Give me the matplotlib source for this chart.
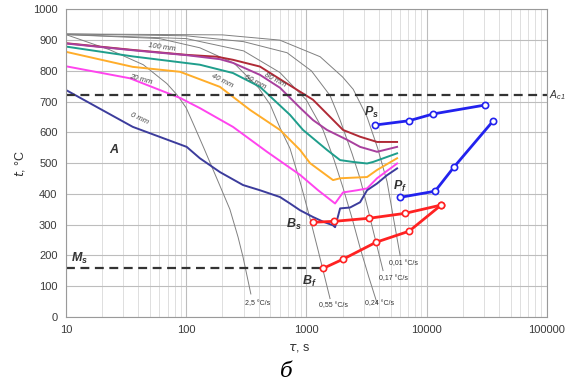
import matplotlib
matplotlib.use('Agg')
import matplotlib.pyplot as plt
from matplotlib.ticker import FixedLocator, LogLocator, NullFormatter

plt.rcParams['font.family'] = ['Liberation Sans', 'DejaVu Sans']

# cooling curves (time s, temperature C)
t_0mm = [10, 36, 101, 130, 191, 297, 411, 603, 730, 885, 1135, 1375, 1664, 1730,
         1820, 1905, 2307, 2793, 3192, 3865, 4680, 5670]
T_0mm = [738, 618, 553, 516, 471, 429, 412, 390, 369, 347, 325, 310, 298, 292,
         324, 353, 356, 373, 412, 434, 461, 483]
t_20mm = [10, 34, 89, 130, 245, 470, 885, 1250, 1730, 2015, 2636, 3192, 3865, 5670]
T_20mm = [815, 776, 712, 679, 618, 537, 462, 412, 369, 405, 412, 418, 451, 499]
t_40mm = [10, 36, 89, 191, 340, 603, 885, 1072, 1664, 1905, 3192, 3865, 5670]
T_40mm = [862, 813, 797, 748, 673, 608, 543, 500, 445, 451, 455, 478, 516]
t_60mm = [10, 36, 130, 245, 411, 730, 937, 1483, 1905, 2444, 3192, 3580, 5670]
T_60mm = [879, 847, 820, 793, 748, 657, 608, 543, 510, 504, 499, 504, 532]
t_80mm = [10, 36, 101, 191, 245, 411, 603, 885, 1135, 1483, 2178, 2793, 3865, 5670]
T_80mm = [889, 867, 851, 838, 826, 787, 745, 680, 640, 608, 576, 553, 537, 553]
t_100mm = [10, 36, 101, 180, 245, 411, 620, 1135, 2015, 2793, 3865, 5670]
T_100mm = [890, 868, 852, 846, 836, 814, 770, 706, 608, 586, 569, 569]

# cooling rate lines (grey)
t_r25 = [10, 23, 44, 69, 84, 100, 114, 140, 180, 231, 270, 297, 345]
T_r25 = [918, 869, 820, 759, 722, 680, 630, 550, 450, 350, 260, 195, 75]
t_r055 = [10, 60, 130, 250, 400, 500, 603, 730, 900, 1072, 1250, 1571]
T_r055 = [918, 905, 875, 825, 745, 690, 615, 548, 430, 320, 217, 60]
t_r024 = [10, 100, 300, 600, 1000, 1375, 1700, 2015, 2400, 2793, 3300, 3865]
T_r024 = [918, 905, 865, 795, 705, 608, 510, 420, 320, 225, 130, 45]
t_r017 = [10, 100, 300, 690, 1100, 1571, 1905, 2400, 2793, 3200, 3580, 4335]
T_r017 = [920, 914, 895, 859, 800, 720, 640, 530, 450, 360, 282, 151]
t_r001 = [10, 200, 600, 1300, 2000, 2450, 3192, 3900, 4680, 5300, 6010]
T_r001 = [920, 917, 900, 846, 780, 740, 650, 550, 440, 320, 200]

# transformation lines
t_Bs = [1135, 1700, 3320, 6610, 13190]
T_Bs = [308, 311, 321, 337, 364]
t_Bf = [1375, 2015, 3790, 7140, 13190]
T_Bf = [158, 188, 243, 279, 364]
t_Ps = [3725, 7140, 11300, 30600]
T_Ps = [624, 638, 660, 689]
t_Pf = [6010, 11740, 16900, 35600]
T_Pf = [389, 409, 488, 637]

Ac1 = 720
Ms = 160

fig = plt.figure(figsize=(5.68, 3.89), dpi=100)
ax = fig.add_axes([0.116, 0.185, 0.847, 0.791])
ax.set_xscale('log')
ax.set_xlim(10, 100000)
ax.set_ylim(0, 1000)

ax.xaxis.set_major_locator(FixedLocator([10, 100, 1000, 10000, 100000]))
ax.set_xticklabels(['10', '100', '1000', '10000', '100000'])
ax.xaxis.set_minor_locator(LogLocator(base=10, subs=range(2, 10)))
ax.xaxis.set_minor_formatter(NullFormatter())
ax.set_yticks(range(0, 1001, 100))
ax.grid(which='major', color='#bdbdbd', lw=0.8)
ax.grid(which='minor', axis='x', color='#d9d9d9', lw=0.6)
ax.set_axisbelow(True)
ax.tick_params(which='both', length=0, labelsize=8, labelcolor='#3a3a3a', pad=6)
for s in ax.spines.values():
    s.set_color('#9a9a9a')

gray = '#808080'
for tt, TT in [(t_r25, T_r25), (t_r055, T_r055), (t_r024, T_r024),
               (t_r017, T_r017), (t_r001, T_r001)]:
    ax.plot(tt, TT, color=gray, lw=0.7)

ax.plot(t_100mm, T_100mm, color='#b02a36', lw=1.4)
ax.plot(t_80mm, T_80mm, color='#a8409e', lw=1.4)
ax.plot(t_60mm, T_60mm, color='#1f9e8c', lw=1.4)
ax.plot(t_40mm, T_40mm, color='#ffad2a', lw=1.4)
ax.plot(t_20mm, T_20mm, color='#ff44ee', lw=1.4)
ax.plot(t_0mm, T_0mm, color='#3c3c9c', lw=1.4)

ax.axhline(Ac1, color='#333333', lw=1.6, ls=(0, (4, 2.5)))
ax.plot([10, 1300], [Ms, Ms], color='#333333', lw=1.6, ls=(0, (4, 2.5)))

mk = dict(marker='o', ms=4.5, mfc='white', mew=1.2)
ax.plot(t_Bs, T_Bs, color='#ff2222', lw=2, **mk)
ax.plot(t_Bf, T_Bf, color='#ff2222', lw=2, **mk)
ax.plot(t_Ps, T_Ps, color='#2222ee', lw=2, **mk)
ax.plot(t_Pf, T_Pf, color='#2222ee', lw=2, **mk)

lab = dict(fontsize=5.5, color='#444444', style='italic', ha='center', va='center')
ax.text(63, 875, '100 mm', rotation=-8, **lab)
ax.text(548, 771, '80 mm', rotation=-28, **lab)
ax.text(373, 764, '60 mm', rotation=-28, **lab)
ax.text(199, 766, '40 mm', rotation=-27, **lab)
ax.text(42, 771, '20 mm', rotation=-15, **lab)
ax.text(41, 644, '0 mm', rotation=-25, **lab)

rl = dict(fontsize=5, color='#333333', ha='center', va='center')
ax.text(395, 45, '2,5 °C/s', **rl)
ax.text(1665, 38, '0,55 °C/s', **rl)
ax.text(4090, 44, '0,24 °C/s', **rl)
ax.text(5250, 126, '0,17 °C/s', **rl)
ax.text(6370, 175, '0,01 °C/s', **rl)

bl = dict(fontsize=9, fontweight='bold', style='italic', color='#333333')
ax.text(25, 543, 'A', ha='center', va='center', **bl)
ax.text(13, 190, r'M$_\mathregular{s}$', ha='center', va='center', **bl)
ax.text(920, 300, r'B$_\mathregular{s}$', ha='right', va='center', **bl)
ax.text(1220, 115, r'B$_\mathregular{f}$', ha='right', va='center', **bl)
ax.text(3500, 665, r'P$_\mathregular{s}$', ha='center', va='center', **bl)
ax.text(6000, 425, r'P$_\mathregular{f}$', ha='center', va='center', **bl)
ax.text(1.004, Ac1, r'A$_\mathregular{c1}$', transform=ax.get_yaxis_transform(),
        ha='left', va='center', fontsize=7.5, style='italic', color='#333333')

ax.set_ylabel(r'$t$, °C', fontsize=9, color='#333333', labelpad=4)
fig.text(0.527, 0.1, r'$\tau$, s', fontsize=9, color='#333333', ha='center')
fig.text(0.505, 0.03, 'б', fontsize=15, style='italic', ha='center',
         family='DejaVu Serif')

fig.savefig('out.png', dpi=100)
